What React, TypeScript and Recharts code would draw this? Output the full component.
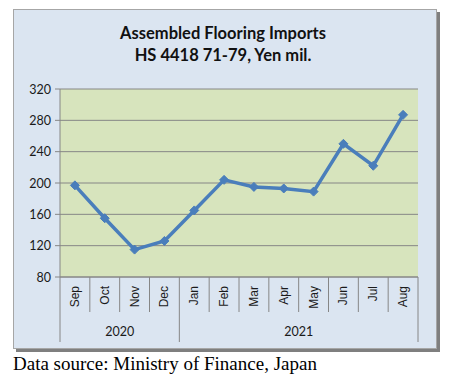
import { CartesianGrid, Line, LineChart, XAxis, YAxis } from "recharts";

const months = ["Sep", "Oct", "Nov", "Dec", "Jan", "Feb", "Mar", "Apr", "May", "Jun", "Jul", "Aug"];
const imports = [197, 155, 115, 126, 165, 204, 195, 193, 189, 250, 222, 287];
const years = ["2020", "2021"];
const yearSpans = [4, 8];
const yTicks = [80, 120, 160, 200, 240, 280, 320];

const data = months.map((m, i) => ({ month: m, value: imports[i] }));

const LINE = "#4a7ebb";
const GRID = "#868686";

// first index of each year group
const yearStarts = yearSpans.map((_, i) => yearSpans.slice(0, i).reduce((a, b) => a + b, 0));

function MonthTick(props: any) {
  const { x, y, payload, index } = props;
  const half = payload && payload.offset ? payload.offset : 14.9;
  const items: any[] = [];
  const left = x - half;
  const right = x + half;
  const startsYear = yearStarts.includes(index);
  items.push(
    <line key="l" x1={left} y1={y} x2={left} y2={y + (startsYear ? 65 : 35)} stroke={GRID} />
  );
  if (index === months.length - 1) {
    items.push(<line key="r" x1={right} y1={y} x2={right} y2={y + 65} stroke={GRID} />);
  }
  items.push(
    <text
      key="t"
      x={x}
      y={y + 9}
      transform={`rotate(-90 ${x} ${y + 9})`}
      textAnchor="end"
      dominantBaseline="central"
      fontFamily="Liberation Sans, Arial, sans-serif"
      fontSize={12}
      fill="#1a1a1a"
    >
      {payload.value}
    </text>
  );
  years.forEach((yr, yi) => {
    const mid = yearStarts[yi] + yearSpans[yi] / 2 - 1;
    if (mid === index) {
      items.push(
        <text
          key={"y" + yr}
          x={right}
          y={y + 59}
          textAnchor="middle"
          fontFamily="Lato, sans-serif"
          fontSize={12.5}
          fill="#1a1a1a"
        >
          {yr}
        </text>
      );
    }
  });
  return <g>{items}</g>;
}

function ValueTick(props: any) {
  const { x, y, payload } = props;
  return (
    <text
      x={x}
      y={y}
      textAnchor="end"
      dominantBaseline="central"
      fontFamily="Lato, sans-serif"
      fontSize={12.5}
      fill="#1a1a1a"
    >
      {payload.value}
    </text>
  );
}

function Diamond(props: any) {
  const { cx, cy } = props;
  if (cx == null || cy == null) return <g key={props.key} />;
  const r = 4.5;
  return (
    <polygon
      key={props.key}
      points={`${cx},${cy - r} ${cx + r},${cy} ${cx},${cy + r} ${cx - r},${cy}`}
      fill={LINE}
      stroke={LINE}
    />
  );
}

export default function App() {
  return (
    <div style={{ position: "absolute", left: 0, top: 0, width: 452, height: 380, background: "#fff" }}>
      <div
        style={{
          position: "absolute",
          left: 13,
          top: 9,
          width: 422,
          height: 338,
          background: "#dbe5f1",
          border: "1px solid #a6a6a6",
          boxShadow: "3px 3px 0 #7f7f7f",
        }}
      />
      <div
        style={{
          position: "absolute",
          left: 0,
          top: 22,
          width: 446,
          textAlign: "center",
          fontFamily: "Lato, sans-serif",
          fontWeight: 700,
          fontSize: 16.5,
          lineHeight: "22px",
          color: "#111",
        }}
      >
        Assembled Flooring Imports
        <br />
        HS 4418 71-79, Yen mil.
      </div>
      <div style={{ position: "absolute", left: 0, top: 0 }}>
        <LineChart width={452} height={380} data={data} margin={{ top: 89, right: 34, left: 15, bottom: 33 }}>
          <CartesianGrid vertical={false} stroke={GRID} fill="#d7e4bd" fillOpacity={1} />
          <XAxis
            dataKey="month"
            scale="band"
            interval={0}
            height={70}
            axisLine={{ stroke: GRID }}
            tickLine={false}
            tickSize={0}
            tickMargin={0}
            tick={<MonthTick />}
          />
          <YAxis
            domain={[80, 320]}
            ticks={yTicks}
            width={45}
            axisLine={{ stroke: GRID }}
            tickLine={{ stroke: GRID }}
            tickSize={5}
            tickMargin={4}
            tick={<ValueTick />}
          />
          <Line
            type="linear"
            dataKey="value"
            stroke={LINE}
            strokeWidth={3.5}
            dot={<Diamond />}
            activeDot={false}
            isAnimationActive={false}
          />
        </LineChart>
      </div>
      <div
        style={{
          position: "absolute",
          left: 13,
          top: 353,
          fontFamily: "Liberation Serif, Times New Roman, serif",
          fontSize: 19,
          color: "#000",
          whiteSpace: "nowrap",
        }}
      >
        Data source: Ministry of Finance, Japan
      </div>
    </div>
  );
}
